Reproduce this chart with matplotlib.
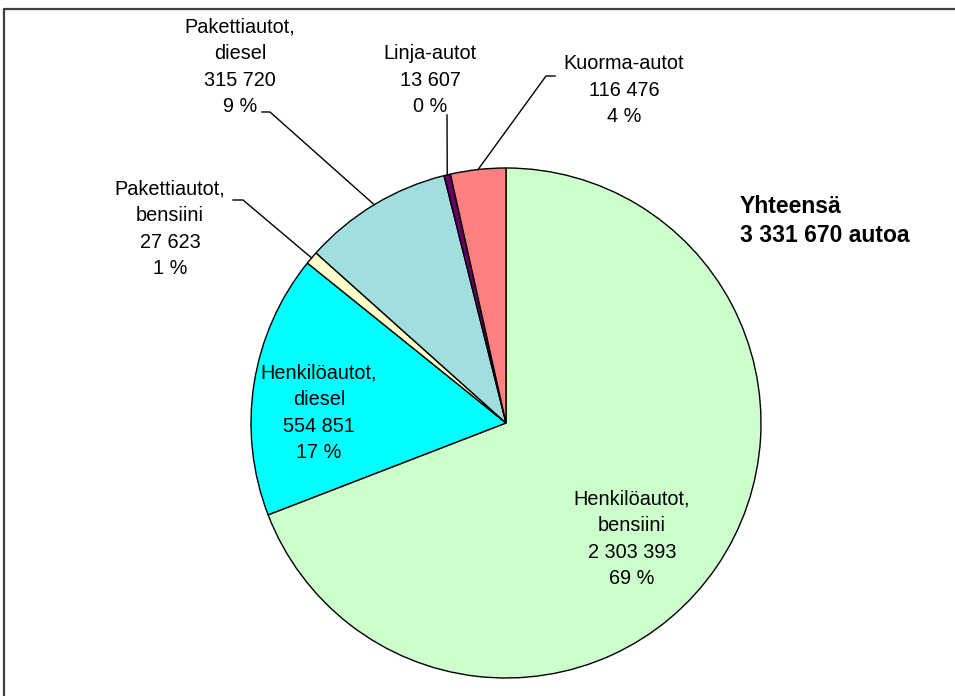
import numpy as np
import matplotlib.pyplot as plt
from matplotlib.lines import Line2D

plt.rcParams['font.family'] = ['Liberation Sans', 'DejaVu Sans']

# data (clockwise from 12 o'clock)
names = ['Henkilöautot,\nbensiini', 'Henkilöautot,\ndiesel', 'Pakettiautot,\nbensiini',
         'Pakettiautot,\ndiesel', 'Linja-autot', 'Kuorma-autot']
counts = [2303393, 554851, 27623, 315720, 13607, 116476]
pcts = [69, 17, 1, 9, 0, 4]  # as printed on the chart
colors = ['#CCFFCC', '#00FFFF', '#FFFFCC', '#A3DEDE', '#660066', '#FF8080']
total_text = 'Yhteensä\n3 331 670 autoa'

W, H = 955, 696
fig = plt.figure(figsize=(W / 100, H / 100), dpi=100)
ax = fig.add_axes([0, 0, 1, 1])


def py(y):
    # pixel row -> data y
    return H - y


cx, cy, r = 506, py(423), 255
wedges, _ = ax.pie(counts, colors=colors, startangle=90, counterclock=False,
                   radius=r, center=(cx, cy), frame=True,
                   wedgeprops=dict(edgecolor='black', linewidth=1.0))
ax.set_xlim(0, W)
ax.set_ylim(0, H)
ax.set_aspect('equal')
ax.axis('off')


def fmt(v):
    return f'{v:,}'.replace(',', ' ')


def label(i):
    return f'{names[i]}\n{fmt(counts[i])}\n{pcts[i]} %'


def anchor(i):
    w = wedges[i]
    a = np.deg2rad((w.theta1 + w.theta2) / 2)
    return cx + r * np.cos(a), cy + r * np.sin(a)


fs = 14.3
ls = 1.5
# inside labels
ax.text(632, py(539), label(0), ha='center', va='center', fontsize=fs, linespacing=ls)
ax.text(319, py(413), label(1), ha='center', va='center', fontsize=fs, linespacing=ls)

# outside labels with leader lines: (text centre, elbow, end)
outside = {
    2: ((170, 229), (243, 200), (233, 200)),
    3: ((240, 67), (270, 112), (262, 112)),
    4: ((430, 80), (447, 115), (447, 115)),
    5: ((624, 90), (546, 76), (555, 76)),
}
for i, (tpos, elbow, end) in outside.items():
    ax.text(tpos[0], py(tpos[1]), label(i), ha='center', va='center',
            fontsize=fs, linespacing=ls)
    x0, y0 = anchor(i)
    ax.add_line(Line2D([x0, elbow[0], end[0]], [y0, py(elbow[1]), py(end[1])],
                       color='black', linewidth=1.0))

ax.text(740, py(221), total_text, ha='left', va='center', fontsize=16.5,
        fontweight='bold', linespacing=1.28)

# outer frame (top and left edges visible)
ax.add_line(Line2D([4, 4, W], [0, py(9), py(9)], color='#404040', linewidth=1.6))

fig.savefig('out.png', dpi=100)
